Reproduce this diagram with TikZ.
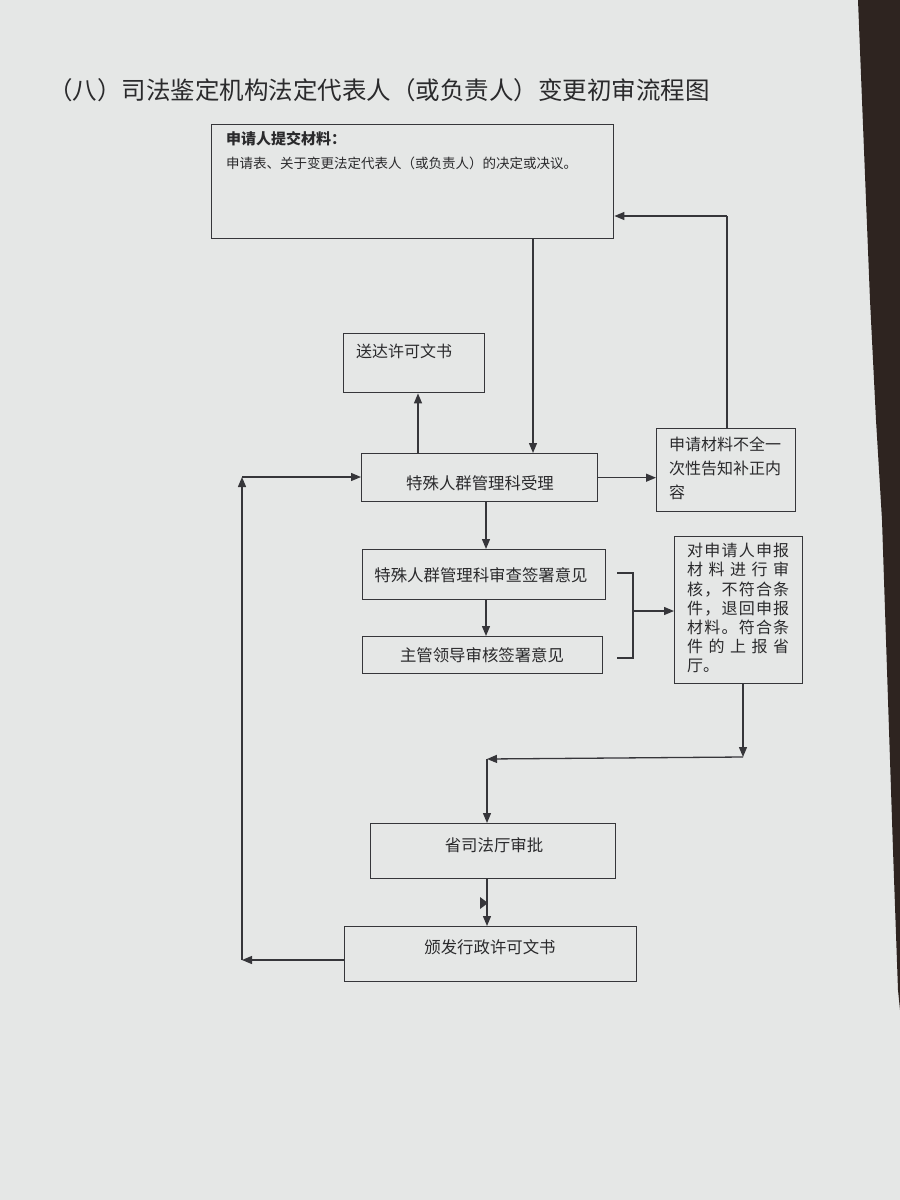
\documentclass[tikz,border=0pt]{standalone}
\usepackage{fontspec}
\setmainfont{Noto Sans CJK SC}
\usetikzlibrary{arrows.meta}
\definecolor{paper}{HTML}{E5E7E6}
\definecolor{edge}{HTML}{2E2420}
\definecolor{linec}{HTML}{36363A}
\definecolor{textc}{HTML}{2A2A2C}
\newcommand\sprd[1]{\makebox[102pt][s]{#1}}
\begin{document}
\begin{tikzpicture}[x=1pt,y=-1pt,
  box/.style={draw=linec, line width=1.4pt, inner sep=0pt, anchor=north west},
  txt/.style={inner sep=0pt, anchor=west, text=textc},
  ctxt/.style={inner sep=0pt, text=textc, font=\fontsize{16.4}{19}\selectfont},
  arr/.style={draw=linec, line width=1.3pt, -{Triangle[length=10pt,width=8pt]}},
  ln/.style={draw=linec, line width=1.3pt}]
\useasboundingbox (0,0) rectangle (900,1200);
\fill[paper] (0,0) rectangle (900,1200);
\fill[edge] (858,0) -- (862,100) -- (870,300) -- (876,420) -- (882,520) -- (888,700) -- (893,850) -- (898,990) -- (900,1010) -- (900,0) -- cycle;

% title
\node[txt, font=\fontsize{24.5}{28}\selectfont] (title) at (48,90) {（八）司法鉴定机构法定代表人（或负责人）变更初审流程图};

% boxes
\node[box, minimum width=402pt, minimum height=114pt] (b1) at (211,124) {};
\node[txt, font=\fontsize{15}{18}\selectfont\bfseries] (b1t1) at (226,139) {申请人提交材料：};
\node[txt, font=\fontsize{13.5}{16}\selectfont] (b1t2) at (226,163) {申请表、关于变更法定代表人（或负责人）的决定或决议。};

\node[box, minimum width=141pt, minimum height=59pt] (send) at (343,333) {};
\node[txt, font=\fontsize{16}{19}\selectfont] (sendt) at (356,351) {送达许可文书};

\node[box, minimum width=236pt, minimum height=48pt] (acc) at (361,453) {};
\node[ctxt] (acct) at (480,483) {特殊人群管理科受理};

\node[box, minimum width=139pt, minimum height=83pt] (inc) at (656,428) {};
\node[txt, font=\fontsize{16}{24}\selectfont, align=left, anchor=north west] (inct) at (669,437) {申请材料不全一\\次性告知补正内\\容};

\node[box, minimum width=243pt, minimum height=50pt] (rev) at (362,549) {};
\node[ctxt] (revt) at (481,575) {特殊人群管理科审查签署意见};

\node[box, minimum width=240pt, minimum height=37pt] (lead) at (362,636) {};
\node[ctxt] (leadt) at (482,655) {主管领导审核签署意见};

\node[box, minimum width=128pt, minimum height=147pt] (chk) at (674,536) {};
\node[txt, font=\fontsize{16}{19.2}\selectfont, align=left, anchor=north west] (chkt) at (687,543) {%
\sprd{对\hfill 申\hfill 请\hfill 人\hfill 申\hfill 报}\\
\sprd{材\hfill 料\hfill 进\hfill 行\hfill 审}\\
\sprd{核\hfill ，\hfill 不\hfill 符\hfill 合\hfill 条}\\
\sprd{件\hfill ，\hfill 退\hfill 回\hfill 申\hfill 报}\\
\sprd{材\hfill 料\hfill 。\hfill 符\hfill 合\hfill 条}\\
\sprd{件\hfill 的\hfill 上\hfill 报\hfill 省}\\
厅。};

\node[box, minimum width=245pt, minimum height=55pt] (prov) at (370,823) {};
\node[ctxt] (provt) at (494,845) {省司法厅审批};

\node[box, minimum width=292pt, minimum height=55pt] (issue) at (344,926) {};
\node[ctxt] (issuet) at (490,947) {颁发行政许可文书};

% coordinates
\coordinate (x533) at (533,0);
\coordinate (x418) at (418,0);
\coordinate (x486) at (486,0);
\coordinate (ret) at (727,216);
\coordinate (br1) at (617,573);
\coordinate (br2) at (633,573);
\coordinate (br3) at (633,658);
\coordinate (br4) at (617,658);
\coordinate (brm) at (633,611);
\coordinate (j0) at (743,683);
\coordinate (j1) at (743,757);
\coordinate (j2) at (487,759);
\coordinate (y960) at (0,960);
\coordinate (l1) at (242,960);
\coordinate (l2) at (242,477);

% connectors
\draw[arr] (b1.south -| x533) -- (acc.north -| x533);
\draw[arr] (acc.north -| x418) -- (send.south -| x418);
\draw[arr] (acc.east) -- (acc.east -| inc.west);
\draw[ln] (inc.north -| ret) -- (ret);
\draw[arr] (ret) -- (ret -| b1.east);
\draw[arr] (acc.south -| x486) -- (rev.north -| x486);
\draw[arr] (rev.south -| x486) -- (lead.north -| x486);
\draw[ln] (br1) -- (br2) -- (br3) -- (br4);
\draw[arr] (brm) -- (brm -| chk.west);
\draw[arr] (j0) -- (j1);
\draw[arr] (j1) -- (j2);
\draw[arr] (j2) -- (j2 |- prov.north);
\draw[arr] (prov.south -| j2) -- (issue.north -| j2);
\fill[linec] (480,897) -- (488,903) -- (480,909) -- cycle;
\draw[arr] (issue.west |- y960) -- (l1);
\draw[arr] (l1) -- (l2);
\draw[arr] (l2) -- (l2 -| acc.west);
\end{tikzpicture}
\end{document}
